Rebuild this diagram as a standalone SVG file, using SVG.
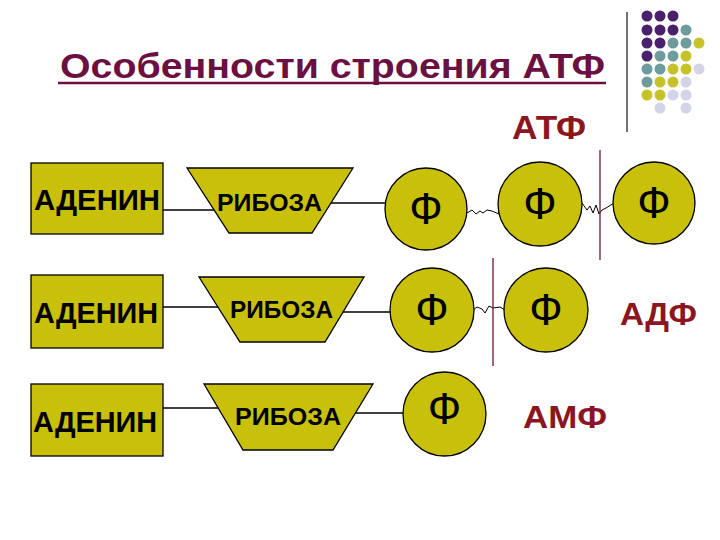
<svg xmlns="http://www.w3.org/2000/svg" width="720" height="540" viewBox="0 0 720 540">
<style>
.bg{fill:#ffffff}
.shape{fill:#c9c00a;stroke:#000;stroke-width:1.3}
.lbl{font-family:"Liberation Sans",Arial,sans-serif;font-weight:bold;fill:#000}
.phi{font-family:"Liberation Sans",Arial,sans-serif;font-size:44px;fill:#000;text-anchor:middle}
.red{font-family:"Liberation Sans",Arial,sans-serif;font-weight:bold;fill:#8b1520}
.conn{stroke:#000;stroke-width:1.3;fill:none}
.zig{stroke:#000;stroke-width:1;fill:none}
.cut{stroke:#6b1a2a;stroke-width:1.3}
.p{fill:#48206b}.t{fill:#6e9b9b}.y{fill:#c6c22a}.l{fill:#d4d4e8}
</style>
<rect class="bg" width="720" height="540"/>

<g id="decor">
<line x1="627" y1="12" x2="627" y2="132" stroke="#444" stroke-width="1.5"/>
<g>
<circle class="p" cx="647" cy="16" r="5.5"/><circle class="p" cx="660" cy="16" r="5.5"/><circle class="p" cx="673" cy="16" r="5.5"/>
<circle class="p" cx="647" cy="30" r="5.5"/><circle class="p" cx="660" cy="30" r="5.5"/><circle class="p" cx="673" cy="30" r="5.5"/><circle class="t" cx="686" cy="30" r="5.5"/>
<circle class="p" cx="647" cy="43" r="5.5"/><circle class="p" cx="660" cy="43" r="5.5"/><circle class="t" cx="673" cy="43" r="5.5"/><circle class="t" cx="686" cy="43" r="5.5"/><circle class="y" cx="699" cy="43" r="5.5"/>
<circle class="p" cx="647" cy="56" r="5.5"/><circle class="t" cx="660" cy="56" r="5.5"/><circle class="t" cx="673" cy="56" r="5.5"/><circle class="y" cx="686" cy="56" r="5.5"/>
<circle class="t" cx="647" cy="69" r="5.5"/><circle class="t" cx="660" cy="69" r="5.5"/><circle class="y" cx="673" cy="69" r="5.5"/><circle class="y" cx="686" cy="69" r="5.5"/><circle class="l" cx="699" cy="69" r="5.5"/>
<circle class="t" cx="647" cy="82" r="5.5"/><circle class="y" cx="660" cy="82" r="5.5"/><circle class="y" cx="673" cy="82" r="5.5"/><circle class="l" cx="686" cy="82" r="5.5"/>
<circle class="y" cx="647" cy="95" r="5.5"/><circle class="y" cx="660" cy="95" r="5.5"/><circle class="l" cx="673" cy="95" r="5.5"/><circle class="l" cx="686" cy="95" r="5.5"/>
<circle class="l" cx="660" cy="108" r="5.5"/><circle class="l" cx="686" cy="108" r="5.5"/>
</g>
</g>

<g id="title">
<text x="60" y="78" font-family="'Liberation Sans',Arial,sans-serif" font-weight="bold" font-size="35" fill="#6b1040" textLength="545" lengthAdjust="spacingAndGlyphs">Особенности строения АТФ</text>
<line x1="58" y1="83" x2="606" y2="83" stroke="#6b1040" stroke-width="2.5"/>
</g>

<g id="connectors">
<line class="conn" x1="163" y1="210" x2="214" y2="210"/>
<line class="conn" x1="331" y1="203" x2="385" y2="203"/>
<polyline class="zig" points="467,213 472,210 476,214 480,211 483,213 487,210 492,211 499,214"/>
<polyline class="zig" points="582,203 587,210 590,206 593,213 596,205 599,214 602,210 606,208 614,203"/>
<line class="conn" x1="163" y1="307" x2="218" y2="307"/>
<line class="conn" x1="343" y1="312" x2="390" y2="312"/>
<polyline class="zig" points="473,310 477,307 482,309 485,313 489,306 493,308 500,307 505,310"/>
<line class="conn" x1="163" y1="408" x2="218" y2="408"/>
<line class="conn" x1="355" y1="413" x2="403" y2="413"/>
<line class="cut" x1="600" y1="150" x2="600" y2="260"/>
<line class="cut" x1="493" y1="258" x2="493" y2="366"/>
</g>

<g id="adenine1"><rect class="shape" x="31" y="163" width="132" height="71"/><text class="lbl" x="97" y="210" font-size="30" text-anchor="middle" textLength="126" lengthAdjust="spacingAndGlyphs">АДЕНИН</text></g>
<g id="ribose1"><polygon class="shape" points="187,168 353,168 312,233 229,233"/><text class="lbl" x="269.5" y="211" font-size="24" text-anchor="middle" textLength="105" lengthAdjust="spacingAndGlyphs">РИБОЗА</text></g>
<g id="phos1a"><circle class="shape" cx="426" cy="209" r="41"/><text class="phi" x="426" y="224">Ф</text></g>
<g id="phos1b"><circle class="shape" cx="540" cy="204" r="42"/><text class="phi" x="540" y="219">Ф</text></g>
<g id="phos1c"><circle class="shape" cx="654" cy="203" r="41"/><text class="phi" x="654" y="218">Ф</text></g>
<g id="atp-label"><text class="red" x="549" y="139" font-size="33" text-anchor="middle" textLength="74" lengthAdjust="spacingAndGlyphs">АТФ</text></g>

<g id="adenine2"><rect class="shape" x="31" y="275" width="132" height="73"/><text class="lbl" x="96" y="323" font-size="30" text-anchor="middle" textLength="124" lengthAdjust="spacingAndGlyphs">АДЕНИН</text></g>
<g id="ribose2"><polygon class="shape" points="199,277 364,277 325,342 240,342"/><text class="lbl" x="281.5" y="318" font-size="24" text-anchor="middle" textLength="103" lengthAdjust="spacingAndGlyphs">РИБОЗА</text></g>
<g id="phos2a"><circle class="shape" cx="432" cy="310" r="42"/><text class="phi" x="432" y="325">Ф</text></g>
<g id="phos2b"><circle class="shape" cx="546" cy="310" r="42"/><text class="phi" x="546" y="325">Ф</text></g>
<g id="adp-label"><text class="red" x="658.5" y="325" font-size="32" text-anchor="middle" textLength="77" lengthAdjust="spacingAndGlyphs">АДФ</text></g>

<g id="adenine3"><rect class="shape" x="31" y="384" width="132" height="72"/><text class="lbl" x="95" y="432" font-size="30" text-anchor="middle" textLength="124" lengthAdjust="spacingAndGlyphs">АДЕНИН</text></g>
<g id="ribose3"><polygon class="shape" points="204,384 373,384 333,450 243,450"/><text class="lbl" x="288" y="425" font-size="24" text-anchor="middle" textLength="106" lengthAdjust="spacingAndGlyphs">РИБОЗА</text></g>
<g id="phos3"><ellipse class="shape" cx="444.5" cy="414" rx="41.5" ry="42"/><text class="phi" x="444.5" y="424">Ф</text></g>
<g id="amp-label"><text class="red" x="565" y="428" font-size="32" text-anchor="middle" textLength="84" lengthAdjust="spacingAndGlyphs">АМФ</text></g>
</svg>
